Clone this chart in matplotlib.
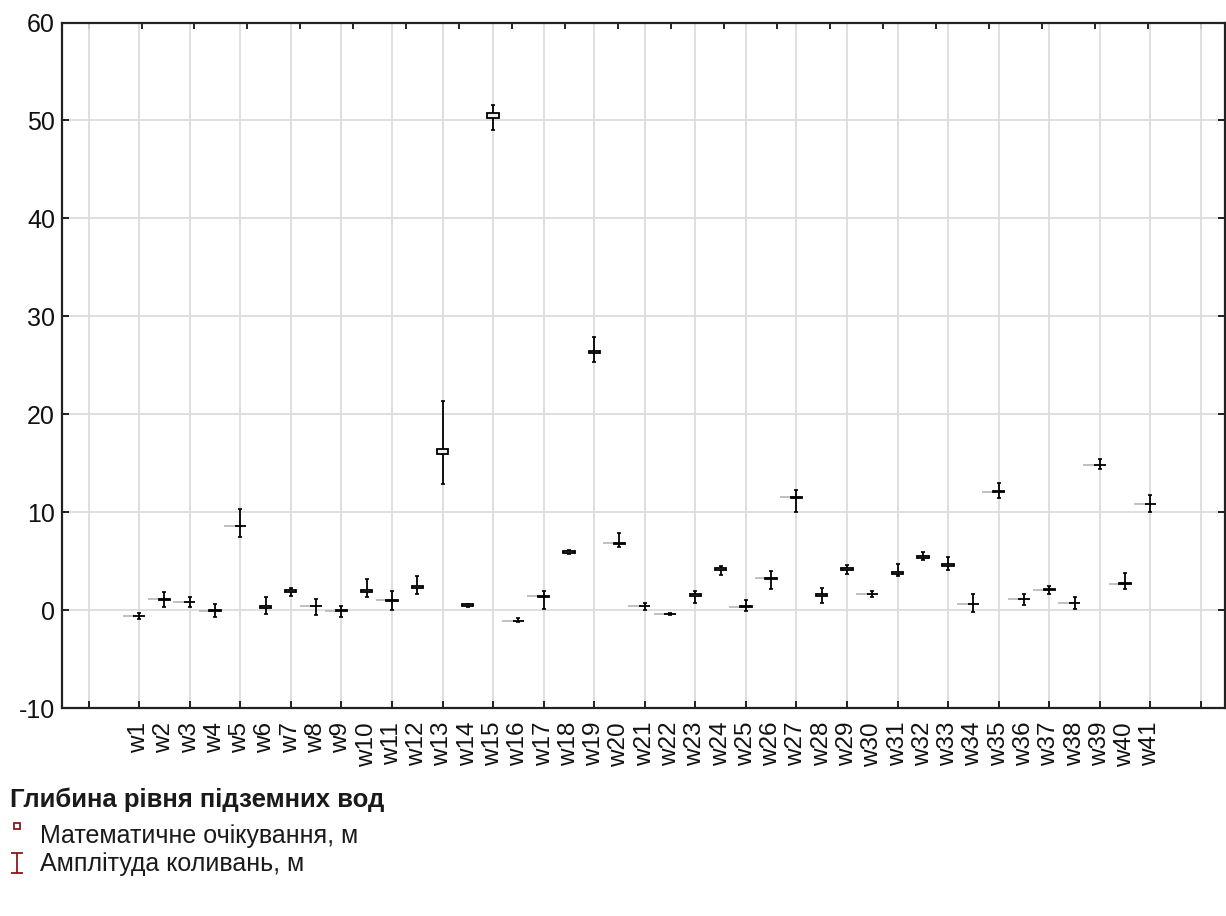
import matplotlib
matplotlib.use("Agg")
import matplotlib.pyplot as plt
import numpy as np
from matplotlib.lines import Line2D
from matplotlib.path import Path

plt.rcParams['font.family'] = ['Liberation Sans', 'DejaVu Sans']
plt.rcParams['axes.unicode_minus'] = False

# ---- data ----
wells = ['w1', 'w2', 'w3', 'w4', 'w5', 'w6', 'w7', 'w8', 'w9', 'w10',
         'w11', 'w12', 'w13', 'w14', 'w15', 'w16', 'w17', 'w18', 'w19', 'w20',
         'w21', 'w22', 'w23', 'w24', 'w25', 'w26', 'w27', 'w28', 'w29', 'w30',
         'w31', 'w32', 'w33', 'w34', 'w35', 'w36', 'w37', 'w38', 'w39', 'w40', 'w41']
means = [-0.6, 1.1, 0.8, -0.05, 8.6, 0.35, 1.95, 0.4, -0.05, 1.95,
         1.0, 2.4, 16.2, 0.5, 50.5, -1.1, 1.4, 5.9, 26.35, 6.8,
         0.4, -0.4, 1.55, 4.2, 0.35, 3.25, 11.5, 1.55, 4.2, 1.65,
         3.8, 5.45, 4.6, 0.6, 12.1, 1.1, 2.1, 0.75, 14.8, 2.7, 10.85]
mins = [-0.9, 0.35, 0.35, -0.7, 7.5, -0.4, 1.45, -0.5, -0.7, 1.35,
        0.05, 1.6, 12.85, 0.35, 49.05, -1.25, 0.1, 5.7, 25.35, 6.45,
        0.0, -0.55, 0.75, 3.6, -0.1, 2.2, 10.0, 0.75, 3.65, 1.35,
        3.45, 5.1, 4.05, -0.2, 11.4, 0.5, 1.6, 0.15, 14.4, 2.2, 10.0]
maxs = [-0.3, 1.85, 1.3, 0.6, 10.3, 1.3, 2.3, 1.1, 0.4, 3.15,
        1.9, 3.5, 21.4, 0.65, 51.6, -0.8, 1.9, 6.1, 27.9, 7.85,
        0.75, -0.25, 1.9, 4.5, 1.0, 4.0, 12.3, 2.3, 4.65, 1.95,
        4.75, 5.9, 5.4, 1.6, 12.95, 1.65, 2.45, 1.3, 15.4, 3.75, 11.7]
box_half = [0.02, 0.03, 0.02, 0.02, 0.03, 0.1, 0.1, 0.02, 0.02, 0.1,
            0.03, 0.1, 0.25, 0.1, 0.28, 0.02, 0.02, 0.1, 0.12, 0.03,
            0.02, 0.02, 0.1, 0.1, 0.02, 0.03, 0.03, 0.1, 0.1, 0.02,
            0.1, 0.1, 0.1, 0.03, 0.03, 0.02, 0.03, 0.02, 0.02, 0.03, 0.03]
y_ticks = [-10, 0, 10, 20, 30, 40, 50, 60]

title_text = 'Глибина рівня підземних вод'
legend_mean = 'Математичне очікування, м'
legend_range = 'Амплітуда коливань, м'

# ---- figure ----
W, H = 1226, 916
fig = plt.figure(figsize=(W / 100, H / 100), dpi=100)
ax = fig.add_axes([62 / W, 1 - 708 / H, (1225 - 62) / W, (708 - 22.5) / H])
ax.xaxis.remove_overlapping_locs = False

x = np.arange(1, len(wells) + 1)
m = np.array(means)
lo = np.array(mins)
hi = np.array(maxs)
bh = np.array(box_half)

ax.set_xlim(-2.05, 43.95)
ax.set_ylim(-10, 60)

# grid
grid_x = np.arange(-1, 44, 2)
ax.set_xticks(grid_x)
ax.set_xticklabels([])
ax.set_xticks(x, wells, minor=True)
ax.set_yticks(y_ticks)
ax.grid(True, which='major', color='#dcdcdc', lw=1.3, zorder=0)
ax.set_axisbelow(True)

ax.tick_params(axis='x', which='major', direction='in', length=5, width=1.2,
               top=False, bottom=True, color='black')
ax.tick_params(axis='x', which='minor', length=0, pad=10, labelsize=17.5,
               labelrotation=90, labelcolor='#111111')
ax.tick_params(axis='y', which='major', direction='in', length=5, width=1.2,
               left=True, right=True, labelsize=18, pad=5, labelcolor='#111111')
for lab in ax.get_xticklabels(minor=True):
    lab.set_verticalalignment('top')

# top ticks (independent spacing)
sec = ax.secondary_xaxis('top')
sec.set_xticks(np.linspace(-1, 43, 22))
sec.set_xticklabels([])
sec.tick_params(direction='in', length=5, width=1.2)
sec.spines['top'].set_visible(False)

for s in ax.spines.values():
    s.set_linewidth(1.6)
    s.set_color('#222222')

# light grey lead lines to the left of thin means
thin = bh < 0.08
ax.hlines(m[thin], x[thin] - 0.65, x[thin] - 0.1, color='#b5b5b5', lw=1.2, zorder=2)

# range whiskers
ax.errorbar(x, m, yerr=[m - lo, hi - m], fmt='none', ecolor='black',
            elinewidth=1.3, capsize=1.6, capthick=1.2, zorder=3)

# mean boxes
ax.bar(x, 2 * bh, bottom=m - bh, width=0.45, facecolor='#eeeeee',
       edgecolor='black', linewidth=1.3, zorder=4)

# ---- title and legend below ----
fig.text(10 / W, 1 - 800 / H, title_text, fontsize=18.5, fontweight='bold',
         color='#1a1a1a', ha='left', va='center')
fig.text(40 / W, 1 - 836 / H, legend_mean, fontsize=18, color='#1a1a1a',
         ha='left', va='center')
fig.text(40 / W, 1 - 864 / H, legend_range, fontsize=18, color='#1a1a1a',
         ha='left', va='center')

legend_red = '#8b1a1a'
fig.add_artist(Line2D([17 / W], [1 - 826 / H], transform=fig.transFigure,
                      marker='s', ms=5, mfc='white', mec=legend_red, mew=1.3, ls='none'))
ibeam = Path([(-0.8, 1.4), (0.8, 1.4), (0, 1.4), (0, -1.4), (-0.8, -1.4), (0.8, -1.4)],
             [Path.MOVETO, Path.LINETO, Path.MOVETO, Path.LINETO, Path.MOVETO, Path.LINETO])
fig.add_artist(Line2D([17 / W], [1 - 863 / H], transform=fig.transFigure,
                      marker=ibeam, ms=14, mfc='none', mec=legend_red, mew=1.3, ls='none'))

fig.savefig('out.png', dpi=100)
